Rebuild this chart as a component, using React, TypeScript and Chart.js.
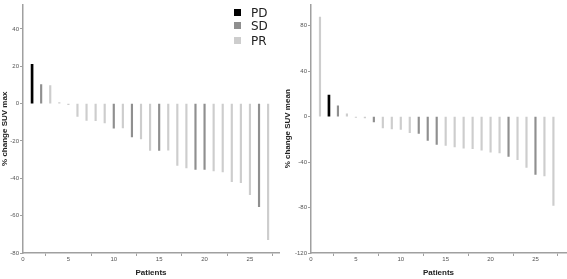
import React, { useEffect, useRef } from "react";
import { Chart, registerables } from "chart.js";

Chart.register(...registerables);

const patients = [1, 2, 3, 4, 5, 6, 7, 8, 9, 10, 11, 12, 13, 14, 15, 16, 17, 18, 19, 20, 21, 22, 23, 24, 25, 26, 27];

const suvMaxChange = [21, 10.2, 9.7, 0.6, -0.6, -6.9, -9, -9.2, -10.3, -13.1, -13, -17.8, -18.9, -25.1, -25.1, -25, -33.1, -34.4, -35.3, -35.3, -36.1, -36.6, -41.8, -42.3, -48.8, -55.2, -72.9];
const suvMaxResponse = ["PD", "SD", "PR", "PR", "PR", "PR", "PR", "PR", "PR", "SD", "PR", "SD", "PR", "PR", "SD", "PR", "PR", "PR", "SD", "SD", "PR", "PR", "PR", "PR", "PR", "SD", "PR"];

const suvMeanChange = [87.6, 19, 9.4, 2.4, -0.7, -1.2, -4.8, -10, -10.9, -11.4, -14.2, -14.8, -21, -24.4, -25.4, -26.6, -27.8, -28.2, -29.6, -31.3, -31.9, -35.1, -38, -44.8, -50.9, -52.1, -78.1];
const suvMeanResponse = ["PR", "PD", "SD", "PR", "PR", "PR", "SD", "PR", "PR", "PR", "PR", "SD", "SD", "SD", "PR", "PR", "PR", "PR", "PR", "PR", "PR", "SD", "PR", "PR", "SD", "PR", "PR"];

const responseGroups = ["PD", "SD", "PR"];
const groupColors: Record<string, string> = { PD: "#000000", SD: "#8f8f8f", PR: "#cdcdcd" };

const xTicks = [0, 5, 10, 15, 20, 25];

function buildDatasets(values: number[], responses: string[]) {
  return responseGroups.map((g) => ({
    label: g,
    data: patients
      .map((p, i) => ({ x: p, y: values[i], r: responses[i] }))
      .filter((d) => d.r === g)
      .map((d) => ({ x: d.x, y: d.y })),
    backgroundColor: groupColors[g],
    borderWidth: 0,
    barThickness: g === "PD" ? 2 : 1.5,
    grouped: false,
  }));
}

type Cfg = {
  values: number[];
  responses: string[];
  yTitle: string;
  yMin: number;
  yMax: number;
  yStep: number;
  xMax: number;
  yWidth: number;
  padRight: number;
};

function BarPanel({ cfg, width }: { cfg: Cfg; width: number }) {
  const ref = useRef<HTMLCanvasElement | null>(null);
  useEffect(() => {
    if (!ref.current) return;
    const axisColor = "#a0a0a0";
    const tickFont = { size: 6, family: "Liberation Sans, Arial, sans-serif" };
    const chart = new Chart(ref.current, {
      type: "bar",
      data: { datasets: buildDatasets(cfg.values, cfg.responses) as any },
      options: {
        animation: false,
        responsive: false,
        maintainAspectRatio: false,
        layout: { padding: { top: 3, right: cfg.padRight, left: 0, bottom: 0 } },
        plugins: { legend: { display: false }, tooltip: { enabled: false } },
        scales: {
          x: {
            type: "linear",
            min: 0,
            max: cfg.xMax,
            offset: false,
            afterBuildTicks: (scale: any) => {
              scale.ticks = xTicks.map((v) => ({ value: v }));
            },
            afterFit: (scale: any) => {
              scale.height = 26;
            },
            ticks: { font: tickFont, color: "#555", padding: 0, maxRotation: 0 },
            grid: { drawOnChartArea: false, tickLength: 3, color: axisColor },
            border: { color: axisColor, width: 1.5 },
            title: {
              display: true,
              text: "Patients",
              font: { size: 8, weight: "bold", family: "Liberation Sans, Arial, sans-serif" },
              color: "#222",
              padding: { top: 2, bottom: 1 },
            },
          },
          y: {
            type: "linear",
            min: cfg.yMin,
            max: cfg.yMax,
            afterFit: (scale: any) => {
              scale.width = cfg.yWidth;
            },
            ticks: { stepSize: cfg.yStep, includeBounds: false, font: tickFont, color: "#555", padding: 1 },
            grid: { drawOnChartArea: false, tickLength: 3, color: axisColor },
            border: { color: axisColor, width: 1.5 },
            title: {
              display: true,
              text: cfg.yTitle,
              font: { size: 8, weight: "bold", family: "Liberation Sans, Arial, sans-serif" },
              color: "#222",
              padding: { top: 0, bottom: 0 },
            },
          },
        },
      } as any,
    });
    return () => chart.destroy();
  }, [cfg]);
  return <canvas ref={ref} width={width} height={279} style={{ display: "block", width, height: 279 }} />;
}

const leftCfg: Cfg = {
  values: suvMaxChange,
  responses: suvMaxResponse,
  yTitle: "% change SUV max",
  yMin: -80,
  yMax: 53,
  yStep: 20,
  xMax: 28.2,
  yWidth: 23,
  padRight: 4,
};

const rightCfg: Cfg = {
  values: suvMeanChange,
  responses: suvMeanResponse,
  yTitle: "% change SUV mean",
  yMin: -120,
  yMax: 98.5,
  yStep: 40,
  xMax: 28.4,
  yWidth: 28,
  padRight: 1,
};

export default function App() {
  const legendItems = responseGroups;
  return (
    <div style={{ position: "fixed", left: 0, top: 0, width: 567, height: 279, background: "#fff", overflow: "hidden" }}>
      <div style={{ position: "absolute", left: 0, top: 0 }}>
        <BarPanel cfg={leftCfg} width={283} />
      </div>
      <div style={{ position: "absolute", left: 283, top: 0 }}>
        <BarPanel cfg={rightCfg} width={284} />
      </div>
      {legendItems.map((g, i) => (
        <div
          key={g}
          style={{
            position: "absolute",
            left: 234,
            top: [9, 22, 37][i] - 3,
            height: 13,
            display: "flex",
            alignItems: "center",
            fontFamily: "DejaVu Sans, sans-serif",
            fontSize: 12,
            color: "#222",
          }}
        >
          <span style={{ display: "inline-block", width: 7, height: 7, background: groupColors[g], marginRight: 10 }} />
          <span>{g}</span>
        </div>
      ))}
    </div>
  );
}
